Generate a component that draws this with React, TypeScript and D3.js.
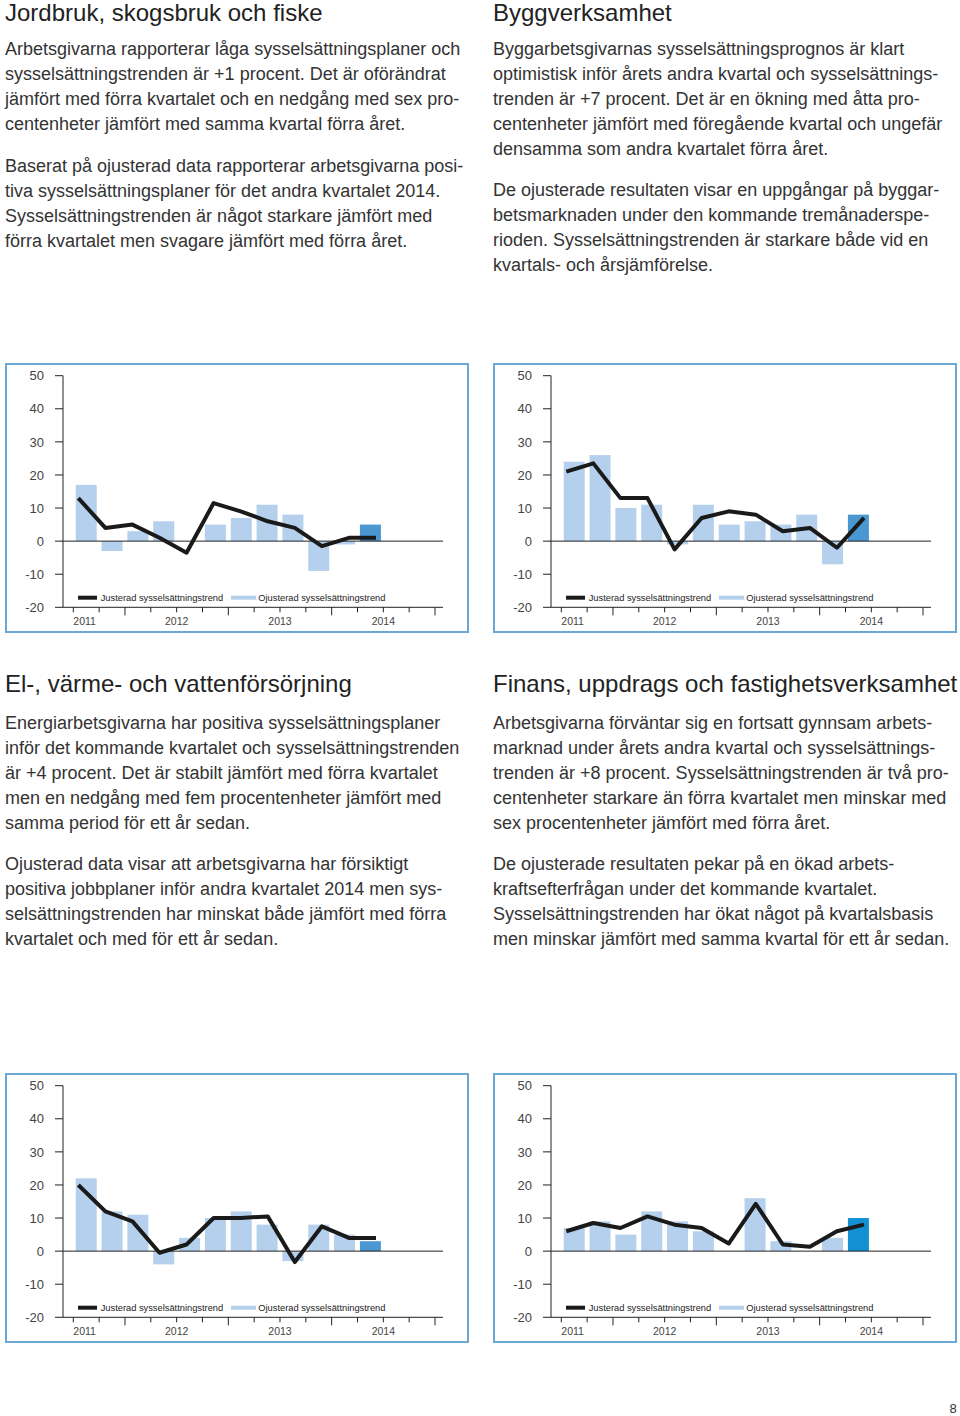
import React from "react";
import * as d3 from "d3";

const quarters = ["2011 K3","2011 K4","2012 K1","2012 K2","2012 K3","2012 K4","2013 K1","2013 K2","2013 K3","2013 K4","2014 K1","2014 K2"];
const yTicks = [50, 40, 30, 20, 10, 0, -10, -20];
const years = [
  { label: "2011", firstQuarter: -2 },
  { label: "2012", firstQuarter: 2 },
  { label: "2013", firstQuarter: 6 },
  { label: "2014", firstQuarter: 10 },
];
const legendLabels = ["Justerad sysselsättningstrend", "Ojusterad sysselsättningstrend"];

const jordbrukJusterad = [13, 4, 5, 1, -3.5, 11.5, 9, 6, 4, -1.5, 1, 1];
const jordbrukOjusterad = [17, -3, 3, 6, 0, 5, 7, 11, 8, -9, -1, 5];
const byggJusterad = [21, 23.5, 13, 13, -2.5, 7, 9, 8, 3, 4, -2, 7];
const byggOjusterad = [24, 26, 10, 11, -1, 11, 5, 6, 5, 8, -7, 8];
const elJusterad = [20, 12, 9, -0.5, 2, 10, 10, 10.5, -3.3, 7.5, 4, 4];
const elOjusterad = [22, 12, 11, -4, 4, 10, 12, 8, -3, 8, 5, 3];
const finansJusterad = [6, 8.5, 7, 10.5, 8, 7, 2.3, 14.3, 2, 1.3, 6, 8];
const finansOjusterad = [7, 9, 5, 12, 9, 6, 0, 16, 3, 0, 4, 10];

const jordbrukTitle = "Jordbruk, skogsbruk och fiske";
const jordbrukP1 = [
  "Arbetsgivarna rapporterar låga sysselsättningsplaner och",
  "sysselsättningstrenden är +1 procent. Det är oförändrat",
  "jämfört med förra kvartalet och en nedgång med sex pro-",
  "centenheter jämfört med samma kvartal förra året.",
];
const jordbrukP2 = [
  "Baserat på ojusterad data rapporterar arbetsgivarna posi-",
  "tiva sysselsättningsplaner för det andra kvartalet 2014.",
  "Sysselsättningstrenden är något starkare jämfört med",
  "förra kvartalet men svagare jämfört med förra året.",
];
const byggTitle = "Byggverksamhet";
const byggP1 = [
  "Byggarbetsgivarnas sysselsättningsprognos är klart",
  "optimistisk inför årets andra kvartal och sysselsättnings-",
  "trenden är +7 procent. Det är en ökning med åtta pro-",
  "centenheter jämfört med föregående kvartal och ungefär",
  "densamma som andra kvartalet förra året.",
];
const byggP2 = [
  "De ojusterade resultaten visar en uppgångar på byggar-",
  "betsmarknaden under den kommande tremånaderspe-",
  "rioden. Sysselsättningstrenden är starkare både vid en",
  "kvartals- och årsjämförelse.",
];
const elTitle = "El-, värme- och vattenförsörjning";
const elP1 = [
  "Energiarbetsgivarna har positiva sysselsättningsplaner",
  "inför det kommande kvartalet och sysselsättningstrenden",
  "är +4 procent. Det är stabilt jämfört med förra kvartalet",
  "men en nedgång med fem procentenheter jämfört med",
  "samma period för ett år sedan.",
];
const elP2 = [
  "Ojusterad data visar att arbetsgivarna har försiktigt",
  "positiva jobbplaner inför andra kvartalet 2014 men sys-",
  "selsättningstrenden har minskat både jämfört med förra",
  "kvartalet och med för ett år sedan.",
];
const finansTitle = "Finans, uppdrags och fastighetsverksamhet";
const finansP1 = [
  "Arbetsgivarna förväntar sig en fortsatt gynnsam arbets-",
  "marknad under årets andra kvartal och sysselsättnings-",
  "trenden är +8 procent. Sysselsättningstrenden är två pro-",
  "centenheter starkare än förra kvartalet men minskar med",
  "sex procentenheter jämfört med förra året.",
];
const finansP2 = [
  "De ojusterade resultaten pekar på en ökad arbets-",
  "kraftsefterfrågan under det kommande kvartalet.",
  "Sysselsättningstrenden har ökat något på kvartalsbasis",
  "men minskar jämfört med samma kvartal för ett år sedan.",
];

const FONT = "'Liberation Sans', Arial, Helvetica, sans-serif";
const LIGHT = "#b5d0ec";

function TextBlock({ x, titleY, title, p1, p2, p1Y, p2Y }: any) {
  return (
    <g fontFamily={FONT}>
      <text x={x} y={titleY} fontSize={24} fill="#222">{title}</text>
      {p1.map((l: string, i: number) => (
        <text key={"a" + i} x={x} y={p1Y + i * 25} fontSize={18} fill="#333">{l}</text>
      ))}
      {p2.map((l: string, i: number) => (
        <text key={"b" + i} x={x} y={p2Y + i * 25} fontSize={18} fill="#333">{l}</text>
      ))}
    </g>
  );
}

function Chart({ ox, oy, line, bars, dark }: any) {
  const w = 462, h = 268;
  const y = d3.scaleLinear().domain([-20, 50]).range([oy + 243.3, oy + 11.7]);
  const xq = d3.scaleLinear().domain([0, 14]).range([ox + 67.3, ox + 429]);
  const lx = d3.scaleLinear().domain([0, quarters.length - 1]).range([ox + 72.3, ox + 370]);
  const axisX = ox + 57;
  const endX = ox + 437;
  const lineGen = d3.line<number>().x((_, i) => lx(i)).y((d) => y(d));
  const barW = 21;
  return (
    <g fontFamily={FONT}>
      <rect x={ox} y={oy} width={w} height={h} fill="#fff" stroke="#6aa8d6" strokeWidth={2} />
      {bars.map((v: number, i: number) => (
        <rect key={quarters[i]} x={xq(i + 0.5) - barW / 2} y={y(Math.max(0, v))} width={barW}
          height={Math.abs(y(v) - y(0))} fill={i === bars.length - 1 ? dark : LIGHT} />
      ))}
      <line x1={axisX} x2={endX} y1={y(0)} y2={y(0)} stroke="#222" strokeWidth={1} />
      <line x1={axisX} x2={axisX} y1={y(50)} y2={y(-20)} stroke="#222" strokeWidth={1} />
      <line x1={axisX} x2={endX} y1={y(-20)} y2={y(-20)} stroke="#222" strokeWidth={1} />
      {yTicks.map((t) => (
        <g key={t}>
          <line x1={axisX - 8} x2={axisX} y1={y(t)} y2={y(t)} stroke="#222" strokeWidth={1} />
          <text x={ox + 38} y={y(t) + 4.7} textAnchor="end" fontSize={13} fill="#444">{t}</text>
        </g>
      ))}
      {d3.range(15).map((k) => (
        <line key={k} x1={xq(k)} x2={xq(k)} y1={y(-20)} y2={y(-20) + (k % 4 === 2 ? 8 : 5)} stroke="#222" strokeWidth={1} />
      ))}
      {years.map((yr) => {
        const c = yr.firstQuarter + 2;
        const start = c < 1;
        return (
          <text key={yr.label} x={start ? xq(0) : xq(c)} y={oy + 261} textAnchor={start ? "start" : "middle"} fontSize={10.5} fill="#444">{yr.label}</text>
        );
      })}
      <path d={lineGen(line) || ""} fill="none" stroke="#1a1a1a" strokeWidth={4} strokeLinejoin="round" strokeLinecap="butt" />
      <line x1={ox + 72} x2={ox + 91} y1={oy + 233.7} y2={oy + 233.7} stroke="#1a1a1a" strokeWidth={4} />
      <text x={ox + 94.7} y={oy + 237} fontSize={9.3} fill="#222">{legendLabels[0]}</text>
      <rect x={ox + 225} y={oy + 231.7} width={25} height={4} fill={LIGHT} />
      <text x={ox + 252.3} y={oy + 237} fontSize={9.3} fill="#222">{legendLabels[1]}</text>
    </g>
  );
}

export default function App() {
  return (
    <svg width={960} height={1416} style={{ position: "absolute", left: 0, top: 0, background: "#fff" }}>
      <rect x={0} y={0} width={960} height={1416} fill="#fff" />
      <TextBlock x={5} titleY={21} title={jordbrukTitle} p1={jordbrukP1} p2={jordbrukP2} p1Y={55} p2Y={172} />
      <TextBlock x={493} titleY={21} title={byggTitle} p1={byggP1} p2={byggP2} p1Y={55} p2Y={196} />
      <TextBlock x={5} titleY={692} title={elTitle} p1={elP1} p2={elP2} p1Y={729} p2Y={870} />
      <TextBlock x={493} titleY={692} title={finansTitle} p1={finansP1} p2={finansP2} p1Y={729} p2Y={870} />
      <Chart ox={6} oy={364} line={jordbrukJusterad} bars={jordbrukOjusterad} dark="#4a97d2" />
      <Chart ox={494} oy={364} line={byggJusterad} bars={byggOjusterad} dark="#4a97d2" />
      <Chart ox={6} oy={1074} line={elJusterad} bars={elOjusterad} dark="#4a97d2" />
      <Chart ox={494} oy={1074} line={finansJusterad} bars={finansOjusterad} dark="#1190d4" />
      <text x={953} y={1413} textAnchor="middle" fontSize={13} fontFamily={FONT} fill="#333">8</text>
    </svg>
  );
}
